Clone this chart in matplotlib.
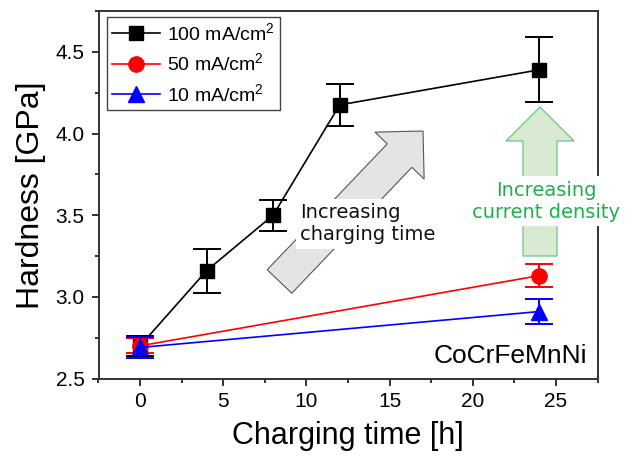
import numpy as np
import matplotlib
matplotlib.use("Agg")
import matplotlib.pyplot as plt
from matplotlib.patches import Polygon
from matplotlib.ticker import MultipleLocator

plt.rcParams['font.family'] = ['Liberation Sans', 'DejaVu Sans']
plt.rcParams['mathtext.fontset'] = 'custom'
plt.rcParams['mathtext.rm'] = 'Liberation Sans'
plt.rcParams['mathtext.default'] = 'regular'

t_100 = [0, 4, 8, 12, 24]
h_100 = [2.70, 3.16, 3.50, 4.175, 4.39]
e_100 = [0.06, 0.135, 0.095, 0.13, 0.20]

t_50 = [0, 24]
h_50 = [2.70, 3.13]
e_50 = [0.045, 0.07]

t_10 = [0, 24]
h_10 = [2.69, 2.91]
e_10 = [0.063, 0.077]

labels = ["100 mA/cm$^{2}$", "50 mA/cm$^{2}$", "10 mA/cm$^{2}$"]

W, H = 632, 457
fig = plt.figure(figsize=(W / 100, H / 100), dpi=100)
ax = fig.add_axes([98.5 / W, 1 - 378.5 / H, 499 / W, 367.5 / H])


def px(x, y):
    # Pixel (oben links) -> Figure-Koordinaten
    return (x / W, 1 - y / H)


def block_arrow(tail, tip, shaft=34, head_w=68, head_l=34):
    tail = np.array(tail, float)
    tip = np.array(tip, float)
    u = (tip - tail) / np.linalg.norm(tip - tail)
    n = np.array([-u[1], u[0]])
    base = tip - u * head_l
    pts = [tail + n * shaft / 2, base + n * shaft / 2, base + n * head_w / 2,
           tip, base - n * head_w / 2, base - n * shaft / 2, tail - n * shaft / 2]
    return [px(*p) for p in pts]


series = [
    (t_100, h_100, e_100, 'black', 's', 9.5),
    (t_50, h_50, e_50, 'red', 'o', 11),
    (t_10, h_10, e_10, 'blue', '^', 12),
]
for i, (t, h, e, c, m, ms) in enumerate(series):
    ax.errorbar(t, h, yerr=e, fmt='none', ecolor=c, elinewidth=1.4,
                capsize=10, capthick=1.4, zorder=3 + i)
    ax.plot(t, h, color=c, marker=m, ms=ms, lw=1.2, label=labels[i], zorder=3 + i)

ax.set_xlim(-2.5, 27.5)
ax.set_ylim(2.5, 4.75)
ax.xaxis.set_major_locator(MultipleLocator(5))
ax.xaxis.set_minor_locator(MultipleLocator(2.5))
ax.yaxis.set_major_locator(MultipleLocator(0.5))
ax.yaxis.set_minor_locator(MultipleLocator(0.25))
ax.yaxis.set_major_formatter(matplotlib.ticker.FormatStrFormatter('%.1f'))
ax.tick_params(which='both', direction='out', width=1.4, color='#333333',
               labelsize=15, top=False, right=False)
ax.tick_params(which='major', length=5, pad=5)
ax.tick_params(which='minor', length=3)
for s in ax.spines.values():
    s.set_linewidth(1.4)
    s.set_color('#333333')

ax.set_xlabel("Charging time [h]", fontsize=22, labelpad=7)
ax.set_ylabel("Hardness [GPa]", fontsize=23, labelpad=7)

leg = ax.legend(loc='upper left', bbox_to_anchor=(8.5 / 499, 1 - 6 / 367.5),
                borderaxespad=0, fontsize=14, fancybox=False, framealpha=1,
                edgecolor='#444444', handlelength=2.5, handletextpad=0.35,
                labelspacing=0.45, borderpad=0.25)
leg.get_frame().set_linewidth(1.0)

ax.text(587 / W, 1 - 363 / H, "CoCrFeMnNi", transform=fig.transFigure,
        fontsize=19, ha='right', va='baseline')

# Pfeile
fig.add_artist(Polygon(block_arrow((279.5, 281.5), (423, 131)), closed=True,
                       transform=fig.transFigure, facecolor='#e4e4e4',
                       edgecolor='#555555', lw=0.8, zorder=1))
fig.add_artist(Polygon(block_arrow((540, 256), (540, 107)), closed=True,
                       transform=fig.transFigure, facecolor='#d8ebd2',
                       edgecolor='#5cbf7a', lw=0.8, zorder=1))

fig.text(*px(300, 224), "Increasing\ncharging time", fontsize=14,
         family='DejaVu Sans', ha='left', va='center', color='#111111',
         bbox=dict(facecolor='white', edgecolor='none', pad=3), zorder=5)
fig.text(*px(546, 201), "Increasing\ncurrent density", fontsize=14,
         family='DejaVu Sans', ha='center', va='center', color='#22ae4c',
         bbox=dict(facecolor='white', edgecolor='none', pad=3), zorder=5)

fig.savefig("out.png", dpi=100)
